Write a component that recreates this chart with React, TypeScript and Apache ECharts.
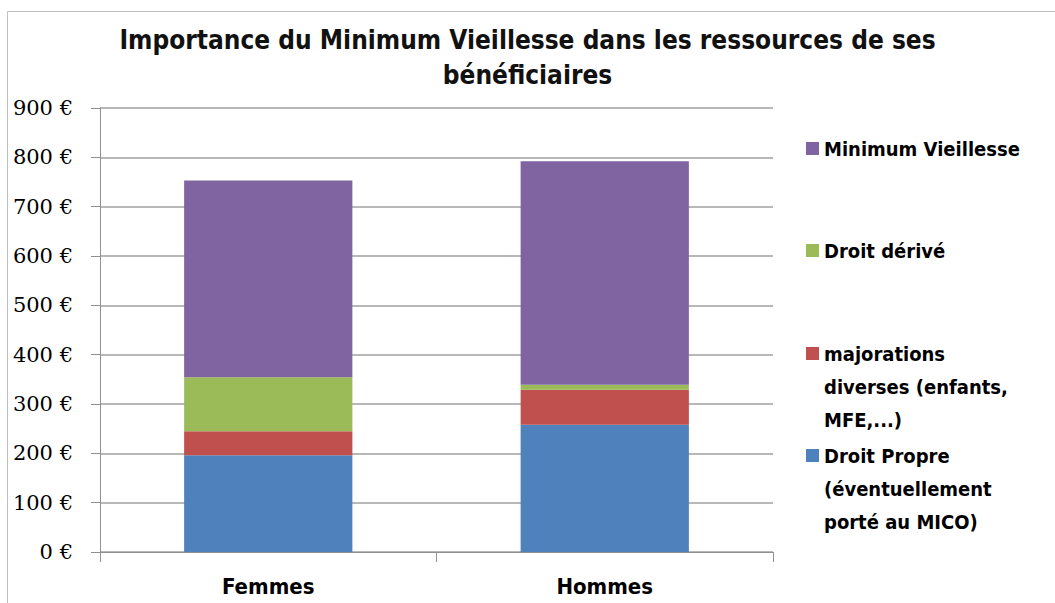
import React, { useEffect, useRef } from "react";
import * as echarts from "echarts";

const categories = ["Femmes", "Hommes"];
const droitPropre = [196, 258];
const majorations = [49, 71];
const droitDerive = [109, 10];
const minimumVieillesse = [399, 453];
const yTicks = [0, 100, 200, 300, 400, 500, 600, 700, 800, 900];

const titleText = "Importance du Minimum Vieillesse dans les ressources de ses\nbénéficiaires";

const FONT = "'DejaVu Sans Condensed', 'Liberation Sans', sans-serif";
const SERIF = "'DejaVu Serif', 'Liberation Serif', serif";

export default function App() {
  const ref = useRef<HTMLDivElement>(null);
  useEffect(() => {
    const chart = echarts.init(ref.current!, null, { renderer: "svg" });
    const legendText = { fontFamily: FONT, fontSize: 20, fontWeight: "bold", color: "#000", lineHeight: 33 };
    const mkLegend = (name: string, top: number, text: string) => ({
      data: [name],
      left: 806,
      top,
      orient: "vertical",
      itemWidth: 13,
      itemHeight: 13,
      itemGap: 0,
      padding: 0,
      icon: "rect",
      selectedMode: false,
      formatter: () => text,
      textStyle: legendText,
    });
    chart.setOption({
      animation: false,
      backgroundColor: "#fff",
      title: {
        text: titleText,
        left: "center",
        top: 17,
        textStyle: { fontFamily: FONT, fontSize: 26, fontWeight: "bold", color: "#111", lineHeight: 35 },
      },
      graphic: [
        {
          type: "polyline",
          shape: { points: [[7.5, 700], [7.5, 11.5], [1100, 11.5]] },
          style: { stroke: "#c0c0c0", lineWidth: 1, fill: null },
        },
      ],
      legend: [
        mkLegend("Minimum Vieillesse", 132, "Minimum Vieillesse"),
        mkLegend("Droit dérivé", 234, "Droit dérivé"),
        mkLegend("majorations diverses (enfants, MFE,...)", 271, "\n\nmajorations\ndiverses (enfants,\nMFE,...)"),
        mkLegend("Droit Propre (éventuellement porté au MICO)", 373, "\n\nDroit Propre\n(éventuellement\nporté au MICO)"),
      ],
      grid: { left: 100, right: 282, top: 108, bottom: 51, containLabel: false },
      xAxis: {
        type: "category",
        data: categories,
        axisLine: { lineStyle: { color: "#909090", width: 1 } },
        axisTick: { show: true, length: 10, lineStyle: { color: "#909090" } },
        axisLabel: { fontFamily: FONT, fontSize: 22, fontWeight: "bold", color: "#000", margin: 23 },
      },
      yAxis: {
        type: "value",
        min: yTicks[0],
        max: yTicks[yTicks.length - 1],
        interval: 100,
        axisLine: { show: true, lineStyle: { color: "#909090", width: 1 } },
        axisTick: { show: true, length: 9, lineStyle: { color: "#909090" } },
        splitLine: { show: true, lineStyle: { color: "#a0a0a0", width: 1.5 } },
        axisLabel: {
          fontFamily: SERIF,
          fontSize: 21,
          color: "#000",
          margin: 27,
          formatter: (v: number) => `${v} €`,
        },
      },
      series: [
        { name: "Droit Propre (éventuellement porté au MICO)", type: "bar", stack: "t", data: droitPropre, itemStyle: { color: "#4F81BD" }, barWidth: "50%" },
        { name: "majorations diverses (enfants, MFE,...)", type: "bar", stack: "t", data: majorations, itemStyle: { color: "#C0504D" } },
        { name: "Droit dérivé", type: "bar", stack: "t", data: droitDerive, itemStyle: { color: "#9BBB59" } },
        { name: "Minimum Vieillesse", type: "bar", stack: "t", data: minimumVieillesse, itemStyle: { color: "#8064A2" } },
      ],
    });
    return () => chart.dispose();
  }, []);
  return <div ref={ref} style={{ position: "absolute", left: 0, top: 0, width: 1055, height: 603 }} />;
}
